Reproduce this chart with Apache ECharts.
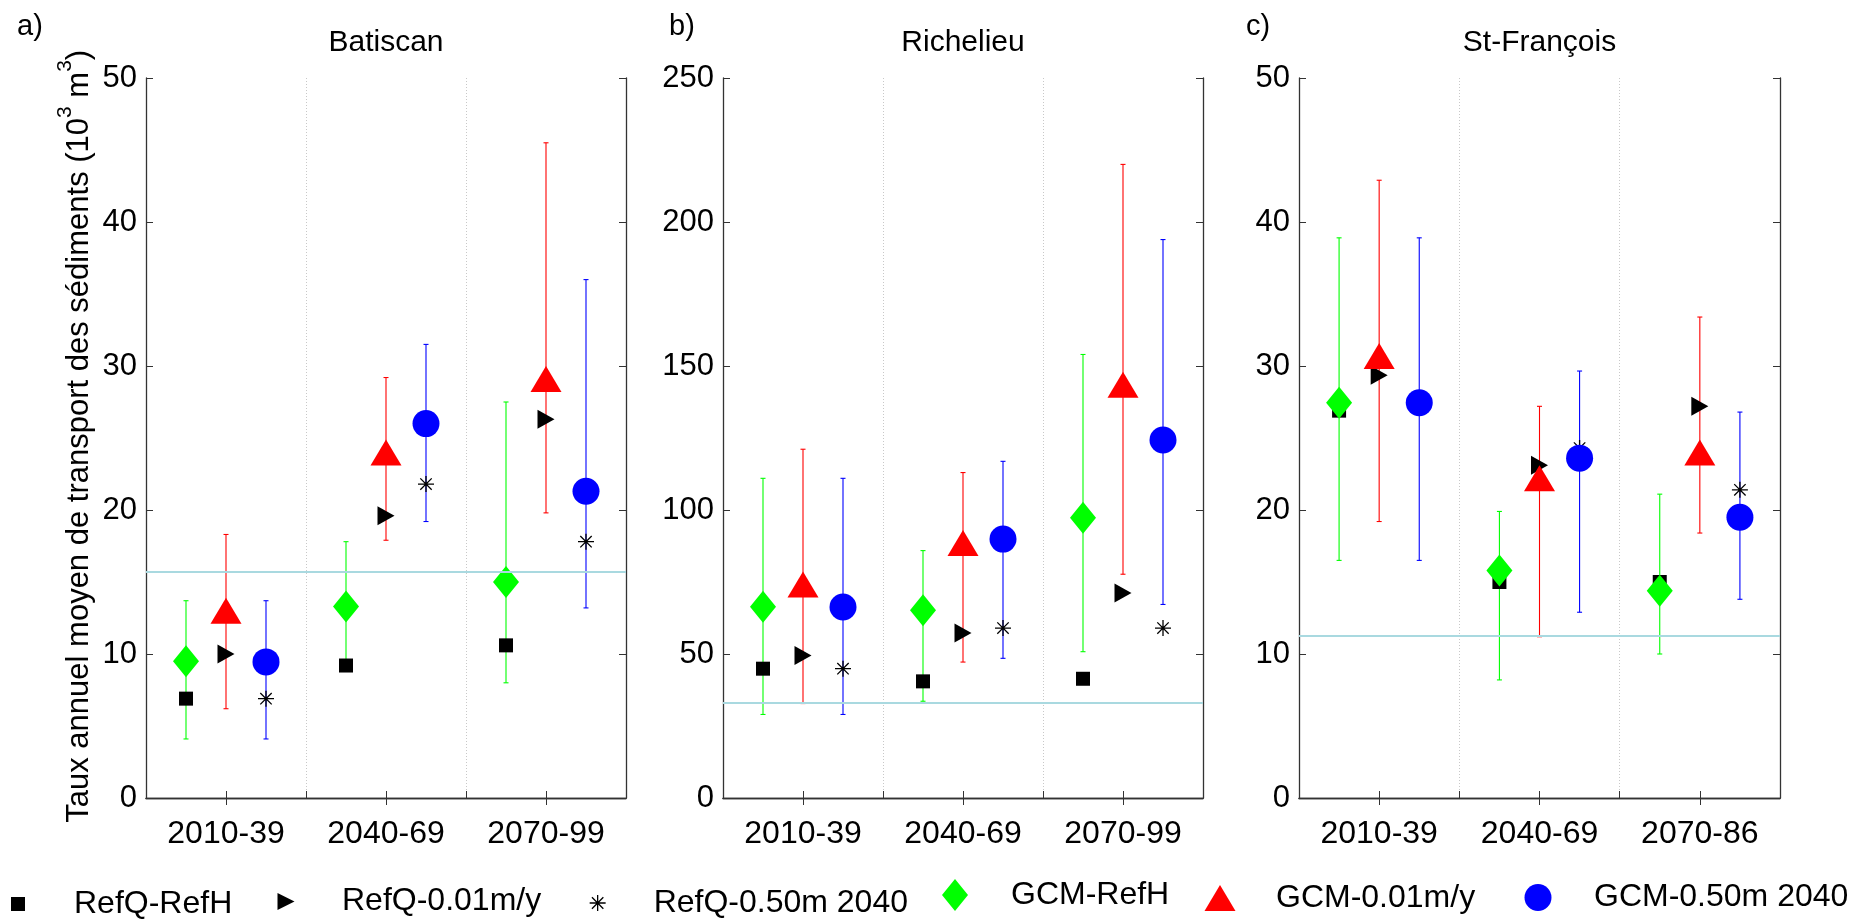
<!DOCTYPE html>
<html>
<head>
<meta charset="utf-8">
<script src="https://cdn.jsdelivr.net/npm/echarts@6/dist/echarts.min.js"></script>
<style>
  html, body { margin: 0; padding: 0; background: #fff; }
  #main { width: 1872px; height: 921px; }
</style>
</head>
<body>
<div id="main"></div>
<script>
var periods = ['2010-39', '2040-69', '2070-99'];
var periodsSF = ['2010-39', '2040-69', '2070-86'];
var seriesNames = ['RefQ-RefH', 'RefQ-0.01m/y', 'RefQ-0.50m 2040', 'GCM-RefH', 'GCM-0.01m/y', 'GCM-0.50m 2040'];
var offsets = [-0.25, 0, 0.25, -0.25, 0, 0.25];

// a) Batiscan
var batRefQRefH = [6.9, 9.2, 10.6];
var batRefQ001 = [10.0, 19.6, 26.3];
var batRefQ050 = [6.9, 21.8, 17.8];
var batGcmRefH = [9.5, 13.3, 15.0];
var batGcmRefHLow = [4.1, 8.8, 8.0];
var batGcmRefHHigh = [13.7, 17.8, 27.5];
var batGcm001 = [13.0, 24.0, 29.1];
var batGcm001Low = [6.2, 17.9, 19.8];
var batGcm001High = [18.3, 29.2, 45.5];
var batGcm050 = [9.45, 26.0, 21.3];
var batGcm050Low = [4.1, 19.2, 13.2];
var batGcm050High = [13.7, 31.5, 36.0];
var batRef = 15.7;

// b) Richelieu
var rchRefQRefH = [44.9, 40.5, 41.4];
var rchRefQ001 = [49.5, 57.3, 71.2];
var rchRefQ050 = [44.9, 59.0, 59.0];
var rchGcmRefH = [66.4, 65.2, 97.3];
var rchGcmRefHLow = [29.0, 33.6, 50.8];
var rchGcmRefHHigh = [111, 85.9, 154];
var rchGcm001 = [74.1, 88.5, 143.5];
var rchGcm001Low = [32.8, 47.2, 77.7];
var rchGcm001High = [121.1, 113, 220];
var rchGcm050 = [66.3, 89.9, 124.3];
var rchGcm050Low = [29.0, 48.5, 67.2];
var rchGcm050High = [111, 116.9, 193.9];
var rchRef = 33.1;

// c) St-François
var sfRefQRefH = [26.9, 15.0, 15.0];
var sfRefQ001 = [29.35, 23.1, 27.2];
var sfRefQ050 = [27.4, 24.3, 21.4];
var sfGcmRefH = [27.45, 15.8, 14.4];
var sfGcmRefHLow = [16.5, 8.2, 10.0];
var sfGcmRefHHigh = [38.9, 19.9, 21.1];
var sfGcm001 = [30.7, 22.2, 24.0];
var sfGcm001Low = [19.2, 11.2, 18.4];
var sfGcm001High = [42.9, 27.2, 33.4];
var sfGcm050 = [27.45, 23.6, 19.5];
var sfGcm050Low = [16.5, 12.9, 13.8];
var sfGcm050High = [38.9, 29.65, 26.8];
var sfRef = 11.25;

var FONT = "'Liberation Sans', Arial, Helvetica, sans-serif";
var STAR = 'path://M8,0L8,16M0,8L16,8M2.3,2.3L13.7,13.7M2.3,13.7L13.7,2.3';
var markers = [
  { symbol: 'rect', size: [14, 14], color: '#000' },
  { symbol: 'path://M0,0L1,0.5L0,1Z', size: [17, 19], color: '#000' },
  { symbol: STAR, size: [16, 16], color: 'rgba(0,0,0,0)', border: '#000' },
  { symbol: 'diamond', size: [26, 32], color: '#00ff00' },
  { symbol: 'triangle', size: [31, 26], color: '#ff0000' },
  { symbol: 'circle', size: [27, 27], color: '#0000ff' }
];

var panels = [
  { name: 'Batiscan', letter: 'a)', letterX: 17, left: 146, width: 480, max: 50, interval: 10, labels: periods, ref: batRef,
    vals: [batRefQRefH, batRefQ001, batRefQ050, batGcmRefH, batGcm001, batGcm050],
    lows: [null, null, null, batGcmRefHLow, batGcm001Low, batGcm050Low],
    highs: [null, null, null, batGcmRefHHigh, batGcm001High, batGcm050High] },
  { name: 'Richelieu', letter: 'b)', letterX: 669, left: 723, width: 480, max: 250, interval: 50, labels: periods, ref: rchRef,
    vals: [rchRefQRefH, rchRefQ001, rchRefQ050, rchGcmRefH, rchGcm001, rchGcm050],
    lows: [null, null, null, rchGcmRefHLow, rchGcm001Low, rchGcm050Low],
    highs: [null, null, null, rchGcmRefHHigh, rchGcm001High, rchGcm050High] },
  { name: 'St-François', letter: 'c)', letterX: 1246, left: 1299, width: 481, max: 50, interval: 10, labels: periodsSF, ref: sfRef,
    vals: [sfRefQRefH, sfRefQ001, sfRefQ050, sfGcmRefH, sfGcm001, sfGcm050],
    lows: [null, null, null, sfGcmRefHLow, sfGcm001Low, sfGcm050Low],
    highs: [null, null, null, sfGcmRefHHigh, sfGcm001High, sfGcm050High] }
];

var TOP = 78, HEIGHT = 720;
var AXIS_COLOR = '#333';

function renderErrorBar(params, api) {
  var x = api.value(0);
  var p1 = api.coord([x, api.value(2)]);
  var p2 = api.coord([x, api.value(1)]);
  var h = 2.5;
  var st = { stroke: api.visual('color'), lineWidth: 1.1 };
  return {
    type: 'group',
    children: [
      { type: 'line', shape: { x1: p1[0], y1: p1[1], x2: p2[0], y2: p2[1] }, style: st },
      { type: 'line', shape: { x1: p1[0] - h, y1: p1[1], x2: p1[0] + h, y2: p1[1] }, style: st },
      { type: 'line', shape: { x1: p2[0] - h, y1: p2[1], x2: p2[0] + h, y2: p2[1] }, style: st }
    ]
  };
}

var grid = [], xAxis = [], yAxis = [], series = [], graphic = [];

panels.forEach(function (p, gi) {
  grid.push({ left: p.left, top: TOP, width: p.width, height: HEIGHT, containLabel: false });

  // bottom value axis (markers are placed on it)
  xAxis.push({
    type: 'value', gridIndex: gi, position: 'bottom', min: 0.5, max: 3.5, interval: 0.5,
    axisLine: { show: true, onZero: false, lineStyle: { color: AXIS_COLOR, width: 1.3 } },
    axisTick: { show: true, inside: true, length: 7, lineStyle: { color: AXIS_COLOR } },
    splitLine: { show: false },
    axisLabel: {
      margin: 20, fontSize: 32, color: '#000', fontFamily: FONT,
      formatter: (function (labels) {
        return function (v) {
          var i = Math.round(v);
          return (Math.abs(v - i) < 1e-6 && i >= 1 && i <= 3) ? labels[i - 1] : '';
        };
      })(p.labels)
    }
  });
  // top category axis: ticks at period centres, dotted separators between periods
  xAxis.push({
    type: 'category', gridIndex: gi, position: 'top', data: p.labels, boundaryGap: true,
    axisLine: { show: true, lineStyle: { color: AXIS_COLOR, width: 1.3 } },
    axisTick: { show: true, inside: true, length: 7, alignWithLabel: true, lineStyle: { color: AXIS_COLOR } },
    axisLabel: { show: false },
    splitLine: { show: true, lineStyle: { color: '#c8c8c8', type: [1, 2], width: 1 } }
  });
  yAxis.push({
    type: 'value', gridIndex: gi, position: 'left', min: 0, max: p.max, interval: p.interval,
    axisLine: { show: true, lineStyle: { color: AXIS_COLOR, width: 1.3 } },
    axisTick: { show: true, inside: true, length: 7, lineStyle: { color: AXIS_COLOR } },
    splitLine: { show: false },
    axisLabel: { margin: 9, fontSize: 31, color: '#000', fontFamily: FONT }
  });
  yAxis.push({
    type: 'value', gridIndex: gi, position: 'right', min: 0, max: p.max, interval: p.interval,
    axisLine: { show: true, lineStyle: { color: AXIS_COLOR, width: 1.3 } },
    axisTick: { show: true, inside: true, length: 7, lineStyle: { color: AXIS_COLOR } },
    splitLine: { show: false },
    axisLabel: { show: false }
  });

  var xi = gi * 2, yi = gi * 2;

  // reference horizontal line
  series.push({
    type: 'scatter', name: 'ref' + gi, xAxisIndex: xi, yAxisIndex: yi, data: [], z: 1, silent: true,
    markLine: {
      silent: true, symbol: ['none', 'none'], label: { show: false },
      lineStyle: { color: '#a9d9e0', width: 2, type: 'solid' },
      data: [{ yAxis: p.ref }]
    }
  });

  // error bars for the GCM series
  for (var s = 3; s < 6; s++) {
    var eb = [];
    for (var k = 0; k < 3; k++) {
      eb.push([k + 1 + offsets[s], p.lows[s][k], p.highs[s][k]]);
    }
    series.push({
      type: 'custom', name: seriesNames[s] + ' range', xAxisIndex: xi, yAxisIndex: yi,
      renderItem: renderErrorBar, itemStyle: { color: markers[s].color },
      encode: { x: 0, y: [1, 2] }, data: eb, z: 2, silent: true
    });
  }

  // markers
  for (var m = 0; m < 6; m++) {
    var pts = [];
    for (var j = 0; j < 3; j++) {
      pts.push([j + 1 + offsets[m], p.vals[m][j]]);
    }
    var mk = markers[m];
    series.push({
      type: 'scatter', name: seriesNames[m], xAxisIndex: xi, yAxisIndex: yi,
      symbol: mk.symbol, symbolSize: mk.size,
      itemStyle: mk.border ? { color: mk.color, borderColor: mk.border, borderWidth: 1.3, opacity: 1 }
                           : { color: mk.color, borderWidth: 0, opacity: 1 },
      data: pts, z: m < 3 ? 3 : 4, silent: true
    });
  }

  graphic.push({
    type: 'text', x: p.left + p.width / 2, y: 43,
    style: { text: p.name, fontSize: 30, fontFamily: FONT, fill: '#000', align: 'center', verticalAlign: 'middle' }
  });
  graphic.push({
    type: 'text', x: p.letterX, y: 27,
    style: { text: p.letter, fontSize: 29, fontFamily: FONT, fill: '#000', align: 'left', verticalAlign: 'middle' }
  });
});

graphic.push({
  type: 'text', x: 75, y: 436, rotation: Math.PI / 2,
  style: {
    text: '{n|Taux annuel moyen de transport des sédiments (10}{s|3}{n| m}{s|3}{n|)}{h| }',
    align: 'center', verticalAlign: 'middle', fill: '#000', fontFamily: FONT,
    rich: {
      n: { fontSize: 31, lineHeight: 31, verticalAlign: 'bottom', fontFamily: FONT, fill: '#000' },
      s: { fontSize: 21, lineHeight: 21, verticalAlign: 'top', fontFamily: FONT, fill: '#000' },
      h: { fontSize: 2, lineHeight: 40 }
    }
  }
});

var legendCenters = [18, 286, 597, 955, 1220, 1538];
var legendY = 895;
var legend = seriesNames.map(function (name, i) {
  var mk = markers[i];
  var w = mk.size[0], h = mk.size[1];
  return {
    data: [{ name: name, icon: mk.symbol }],
    left: legendCenters[i] - w / 2, top: legendY - h / 2,
    itemWidth: w, itemHeight: h, padding: 0, selectedMode: false,
    itemStyle: mk.border ? { color: mk.color, borderColor: mk.border, borderWidth: 1.3 }
                         : { color: mk.color, borderWidth: 0 },
    textStyle: { fontSize: 32, fontFamily: FONT, color: '#000', padding: [0, 0, 0, 56 - w / 2 - 5] }
  };
});

var chart = echarts.init(document.getElementById('main'), null, { renderer: 'canvas' });
chart.setOption({
  backgroundColor: '#fff',
  animation: false,
  grid: grid,
  xAxis: xAxis,
  yAxis: yAxis,
  legend: legend,
  graphic: graphic,
  series: series
});
</script>
</body>
</html>
